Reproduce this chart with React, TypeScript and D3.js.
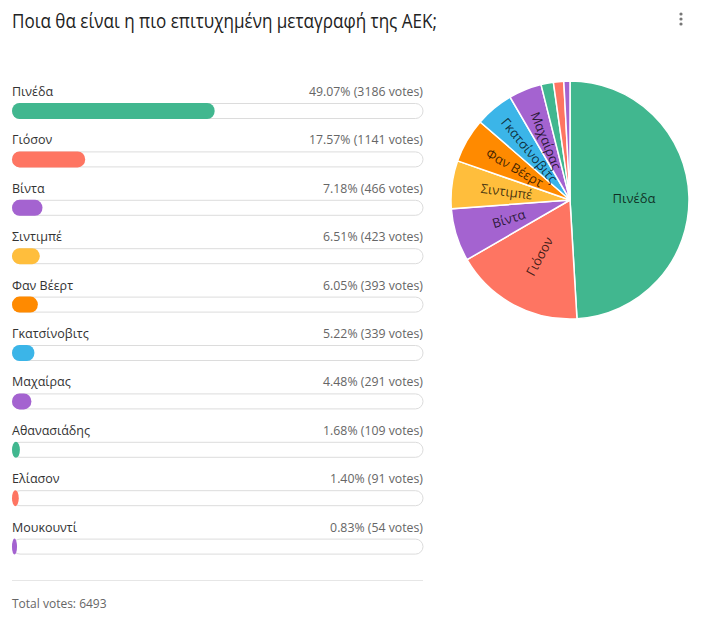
import React from "react";
import * as d3 from "d3";

const title = "Ποια θα είναι η πιο επιτυχημένη μεταγραφή της ΑΕΚ;";
const names = ["Πινέδα", "Γιόσον", "Βίντα", "Σιντιμπέ", "Φαν Βέερτ", "Γκατσίνοβιτς", "Μαχαίρας", "Αθανασιάδης", "Ελίασον", "Μουκουντί"];
const votes = [3186, 1141, 466, 423, 393, 339, 291, 109, 91, 54];
const percents = [49.07, 17.57, 7.18, 6.51, 6.05, 5.22, 4.48, 1.68, 1.4, 0.83];
const colors = ["#41b78f", "#fe7562", "#a463d0", "#ffbe3c", "#ff8a00", "#3bb5e8", "#a463d0", "#41b78f", "#fe7562", "#a463d0"];
const totalVotes = 6493;

const W = 701, H = 631;
const FONT = "'Open Sans', 'Noto Sans', sans-serif";

export default function App() {
  const barX = d3.scaleLinear().domain([0, 100]).range([12, 423]);
  const rowY = d3.scaleLinear().domain([0, 1]).range([96, 144.4]);
  const barH = 15;

  const cx = 570, cy = 200, R = 119;
  const pie = d3.pie<number>().sort(null).value((d) => d)(votes);
  const arc = d3.arc<d3.PieArcDatum<number>>().innerRadius(0).outerRadius(R);

  return (
    <svg width={W} height={H} style={{ position: "absolute", left: 0, top: 0, background: "#fff" }} fontFamily={FONT}>
      <rect width={W} height={H} fill="#fff" />
      <text x={12} y={28} fontSize={20} fill="#222" textLength={425} lengthAdjust="spacingAndGlyphs">{title}</text>
      {[14, 19, 24].map((y) => (
        <circle key={y} cx={681} cy={y} r={1.6} fill="#777" />
      ))}
      {names.map((n, i) => {
        const y = rowY(i);
        const w = Math.max(5, barX(percents[i]) - barX(0) + 1);
        const r = Math.min(7.5, w / 2);
        return (
          <g key={n}>
            <text x={12} y={y} fontSize={12.5} fill="#333">{n}</text>
            <text x={423} y={y} fontSize={12.3} fill="#666" textAnchor="end">
              {`${percents[i].toFixed(2)}% (${votes[i]} votes)`}
            </text>
            <rect x={12.5} y={y + 7.5} width={410.5} height={barH} rx={7.5} ry={7.5} fill="#fff" stroke="#dcdcdc" />
            <rect x={12} y={y + 7} width={w} height={barH + 1} rx={r} ry={8} fill={colors[i]} />
          </g>
        );
      })}
      <line x1={12} x2={423} y1={580.5} y2={580.5} stroke="#e6e6e6" />
      <text x={12} y={608} fontSize={12} fill="#666">{`Total votes: ${totalVotes}`}</text>
      <g transform={`translate(${cx},${cy})`}>
        {pie.map((p, i) => (
          <path key={i} d={arc(p) || ""} fill={colors[i]} stroke="#fff" strokeWidth={1.5} />
        ))}
        {pie.map((p, i) => {
          if (percents[i] < 4) return null;
          const mid = (p.startAngle + p.endAngle) / 2;
          const deg = (mid * 180) / Math.PI;
          const rl = 64;
          const x = Math.sin(mid) * rl;
          const y = -Math.cos(mid) * rl;
          const rot = i === 0 ? 0 : deg < 180 ? deg - 90 : deg - 270;
          return (
            <text key={"l" + i} transform={`translate(${x},${y}) rotate(${rot})`} textAnchor="middle" dy="0.35em" fontSize={13} fill="#000" fillOpacity={0.75}>
              {names[i]}
            </text>
          );
        })}
      </g>
    </svg>
  );
}
